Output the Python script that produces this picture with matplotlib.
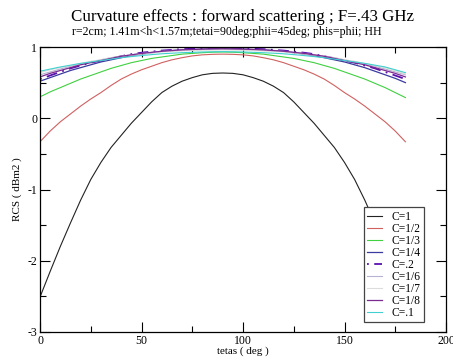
import numpy as np
import matplotlib
matplotlib.use('Agg')
import matplotlib.pyplot as plt

plt.rcParams['font.family'] = ['Liberation Serif', 'DejaVu Serif']
plt.rcParams['axes.unicode_minus'] = False

# scattering angle (deg)
tetas = [0, 5, 10, 15, 20, 25, 30, 35, 40, 45, 50, 55, 60, 65, 70, 75, 80, 85, 90,
         95, 100, 105, 110, 115, 120, 125, 130, 135, 140, 145, 150, 155, 160, 165, 170, 175, 180]

# RCS (dBm2) for each curvature value
rcs_c1 = [-2.51, -2.15, -1.80, -1.47, -1.15, -0.86, -0.62, -0.41, -0.24, -0.07, 0.08, 0.23, 0.36,
          0.45, 0.52, 0.57, 0.61, 0.63, 0.635, 0.63, 0.61, 0.57, 0.52, 0.45, 0.36, 0.23, 0.08,
          -0.07, -0.24, -0.41, -0.62, -0.86, -1.15, -1.47, -1.80, -2.15, -2.51]
rcs_c2 = [-0.33, -0.18, -0.05, 0.06, 0.17, 0.27, 0.36, 0.46, 0.55, 0.62, 0.68, 0.73, 0.78,
          0.82, 0.85, 0.875, 0.89, 0.897, 0.90, 0.897, 0.89, 0.875, 0.85, 0.82, 0.78, 0.73, 0.68,
          0.62, 0.55, 0.46, 0.36, 0.27, 0.17, 0.06, -0.05, -0.18, -0.33]
rcs_c3 = [0.30, 0.37, 0.43, 0.49, 0.55, 0.60, 0.65, 0.70, 0.74, 0.78, 0.81, 0.84, 0.86,
          0.88, 0.90, 0.91, 0.92, 0.927, 0.93, 0.927, 0.92, 0.91, 0.90, 0.88, 0.86, 0.84, 0.81,
          0.78, 0.74, 0.70, 0.65, 0.60, 0.55, 0.49, 0.43, 0.36, 0.29]
rcs_c4 = [0.52, 0.57, 0.62, 0.67, 0.71, 0.75, 0.79, 0.82, 0.85, 0.88, 0.90, 0.92, 0.94,
          0.95, 0.96, 0.965, 0.97, 0.973, 0.975, 0.973, 0.97, 0.965, 0.96, 0.95, 0.94, 0.92, 0.90,
          0.88, 0.85, 0.82, 0.79, 0.75, 0.71, 0.66, 0.61, 0.56, 0.50]
rcs_c5 = [0.55, 0.60, 0.65, 0.70, 0.74, 0.78, 0.81, 0.84, 0.87, 0.90, 0.92, 0.935, 0.95,
          0.96, 0.97, 0.975, 0.98, 0.983, 0.985, 0.983, 0.98, 0.975, 0.97, 0.96, 0.95, 0.935, 0.92,
          0.90, 0.87, 0.84, 0.81, 0.78, 0.74, 0.70, 0.65, 0.60, 0.55]
rcs_c6 = [0.61, 0.65, 0.69, 0.73, 0.76, 0.79, 0.82, 0.85, 0.87, 0.89, 0.91, 0.925, 0.94,
          0.948, 0.955, 0.96, 0.965, 0.968, 0.97, 0.968, 0.965, 0.96, 0.955, 0.948, 0.94, 0.925, 0.91,
          0.89, 0.87, 0.85, 0.82, 0.79, 0.76, 0.73, 0.69, 0.65, 0.61]
rcs_c7 = [0.64, 0.68, 0.71, 0.74, 0.77, 0.80, 0.82, 0.85, 0.87, 0.885, 0.90, 0.915, 0.93,
          0.938, 0.945, 0.95, 0.955, 0.958, 0.96, 0.958, 0.955, 0.95, 0.945, 0.938, 0.93, 0.915, 0.90,
          0.885, 0.87, 0.85, 0.82, 0.80, 0.77, 0.74, 0.71, 0.67, 0.62]
rcs_c8 = [0.58, 0.63, 0.67, 0.71, 0.75, 0.78, 0.81, 0.84, 0.87, 0.89, 0.91, 0.925, 0.94,
          0.95, 0.96, 0.965, 0.97, 0.973, 0.975, 0.973, 0.97, 0.965, 0.96, 0.95, 0.94, 0.925, 0.91,
          0.89, 0.87, 0.84, 0.81, 0.78, 0.75, 0.71, 0.67, 0.63, 0.58]
rcs_c10 = [0.66, 0.69, 0.72, 0.745, 0.77, 0.79, 0.81, 0.83, 0.85, 0.865, 0.88, 0.893, 0.905,
           0.913, 0.92, 0.925, 0.93, 0.933, 0.935, 0.933, 0.93, 0.925, 0.92, 0.913, 0.905, 0.893, 0.88,
           0.865, 0.85, 0.83, 0.81, 0.79, 0.77, 0.745, 0.72, 0.68, 0.64]

labels = ['C=1', 'C=1/2', 'C=1/3', 'C=1/4', 'C=.2', 'C=1/6', 'C=1/7', 'C=1/8', 'C=.1']
series = [rcs_c1, rcs_c2, rcs_c3, rcs_c4, rcs_c5, rcs_c6, rcs_c7, rcs_c8, rcs_c10]
colors = ['#222222', '#d06060', '#40d040', '#3a3aa0', '#5a10b0',
          '#b8b0d0', '#dcdcdc', '#7a2a90', '#40d0d0']
styles = ['-', '-', '-', '-', (0, (1, 3, 6, 3)), '-', '-', '-', '-']
widths = [0.8, 0.8, 0.8, 0.9, 1.3, 0.8, 0.8, 0.9, 0.8]

fig = plt.figure(figsize=(4.53, 3.62), dpi=100)
ax = fig.add_axes([40 / 453, 30 / 362, 406 / 453, 285 / 362])

for y, lab, c, ls, lw in zip(series, labels, colors, styles, widths):
    ax.plot(tetas, y, color=c, linestyle=ls, linewidth=lw, label=lab)

ax.set_xlim(0, 200)
ax.set_ylim(-3, 1)
ax.set_xticks([0, 50, 100, 150, 200])
ax.set_xticks([25, 75, 125, 175], minor=True)
ax.set_yticks([-3, -2, -1, 0, 1])
ax.set_yticks([-2.5, -1.5, -0.5, 0.5], minor=True)
ax.tick_params(which='both', direction='in', top=True, right=True, labelsize=8.5, pad=2)
ax.tick_params(which='major', length=7, width=0.8)
ax.tick_params(which='minor', length=4, width=0.8)
for s in ax.spines.values():
    s.set_linewidth(0.9)

ax.set_xlabel('tetas ( deg )', fontsize=8, labelpad=0)
ax.set_ylabel('RCS ( dBm2 )', fontsize=8, labelpad=4)

fig.text(0.535, 1 - 17 / 362, 'Curvature effects : forward scattering ; F=.43 GHz',
         ha='center', va='center', fontsize=12.2)
fig.text(0.5, 1 - 32 / 362, 'r=2cm; 1.41m<h<1.57m;tetai=90deg;phii=45deg; phis=phii; HH',
         ha='center', va='center', fontsize=8.6)

leg = ax.legend(loc='lower left', bbox_to_anchor=((364 - 40) / 406, (332 - 322) / 285),
                fontsize=8.3, frameon=True, fancybox=False, framealpha=1,
                edgecolor='#444444', borderpad=0.3, labelspacing=0.0,
                handlelength=1.3, handletextpad=0.8, borderaxespad=0)
leg.get_frame().set_linewidth(0.9)

fig.savefig('out.png', dpi=100)
